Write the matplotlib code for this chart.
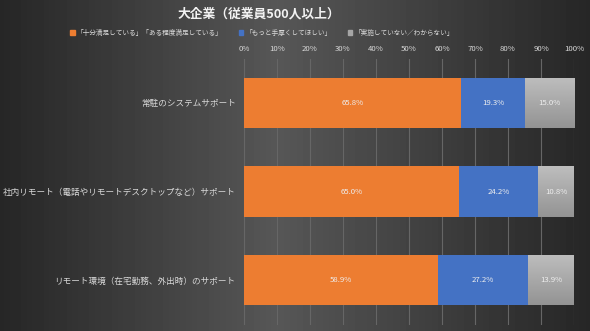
import numpy as np
import matplotlib
matplotlib.use("Agg")
import matplotlib.pyplot as plt
from matplotlib.patches import Patch

plt.rcParams['font.family'] = ['Noto Sans CJK JP', 'DejaVu Sans']

# データ
categories = ["常駐のシステムサポート",
              "社内リモート（電話やリモートデスクトップなど）サポート",
              "リモート環境（在宅勤務、外出時）のサポート"]
satisfied = [65.8, 65.0, 58.9]
want_more = [19.3, 24.2, 27.2]
not_done = [15.0, 10.8, 13.9]
series_labels = ["「十分満足している」「ある程度満足している」",
                 "「もっと手厚くしてほしい」",
                 "「実施していない／わからない」"]
title = "大企業（従業員500人以上）"

COLOR_ORANGE = "#ED7D31"
COLOR_BLUE = "#4472C4"
COLOR_GRAY = "#A5A5A5"
TEXT_COLOR = "#d9d9d9"

fig = plt.figure(figsize=(5.9, 3.31), dpi=100)

# 背景グラデーション (左右が暗く、中央寄りが明るい)
bg = fig.add_axes([0, 0, 1, 1], zorder=-10)
xs = np.linspace(0, 1, 590)
vals = np.interp(xs, [0, 0.47, 1], [0.15, 0.34, 0.15])
grad = np.tile(vals, (331, 1))
bg.imshow(grad, cmap="gray", vmin=0, vmax=1, aspect="auto", extent=[0, 1, 0, 1])
bg.set_axis_off()

ax = fig.add_axes([244 / 590, 1 - 324.5 / 331, 330 / 590, 266 / 331])
ax.set_facecolor("none")

y = np.arange(len(categories))
h = 0.565
b1 = ax.barh(y, satisfied, height=h, color=COLOR_ORANGE, zorder=3)
left2 = np.array(satisfied)
b2 = ax.barh(y, want_more, left=left2, height=h, color=COLOR_BLUE, zorder=3)
left3 = left2 + np.array(want_more)
b3 = ax.barh(y, not_done, left=left3, height=h, color=COLOR_GRAY, zorder=3)

# グレー系列は縦方向のグラデーション
gray_grad = np.linspace(0.74, 0.58, 50).reshape(-1, 1)
for rect in b3:
    x0, y0 = rect.get_x(), rect.get_y()
    w, hh = rect.get_width(), rect.get_height()
    im = ax.imshow(gray_grad, cmap="gray", vmin=0, vmax=1, aspect="auto",
                   extent=[x0, x0 + w, y0 + hh, y0], zorder=4)
    im.set_clip_path(rect)

# 値ラベル
for bars, vals_ in ((b1, satisfied), (b2, want_more), (b3, not_done)):
    for rect, v in zip(bars, vals_):
        ax.text(rect.get_x() + rect.get_width() / 2, rect.get_y() + rect.get_height() / 2,
                f"{v:.1f}%", ha="center", va="center", fontsize=5.6,
                color="#eeeeee", zorder=5)

ax.set_xlim(0, 100)
ax.set_ylim(len(categories) - 0.5, -0.5)
ax.set_xticks(np.arange(0, 101, 10))
ax.set_xticklabels([f"{t}%" for t in range(0, 101, 10)])
ax.xaxis.tick_top()
ax.tick_params(axis="x", length=0, labelsize=5.6, labelcolor=TEXT_COLOR, pad=4)
ax.set_yticks(y)
ax.set_yticklabels(categories)
ax.tick_params(axis="y", length=0, labelsize=6.2, labelcolor=TEXT_COLOR, pad=6)
ax.grid(axis="x", color="#666666", linewidth=0.8, zorder=0)
for s in ax.spines.values():
    s.set_visible(False)

fig.text(259 / 590, 1 - 14 / 331, title, ha="center", va="center",
         fontsize=9.2, fontweight="bold", color="#f2f2f2")

handles = [Patch(color=c, label=l) for c, l in
           zip([COLOR_ORANGE, COLOR_BLUE, COLOR_GRAY], series_labels)]
leg = fig.legend(handles=handles, ncol=3, loc="center",
                 bbox_to_anchor=(262 / 590, 1 - 33 / 331), frameon=False,
                 fontsize=4.8, handlelength=0.7, handleheight=0.7,
                 handletextpad=0.3, columnspacing=2.4, labelcolor=TEXT_COLOR)

fig.savefig("out.png", dpi=100)
